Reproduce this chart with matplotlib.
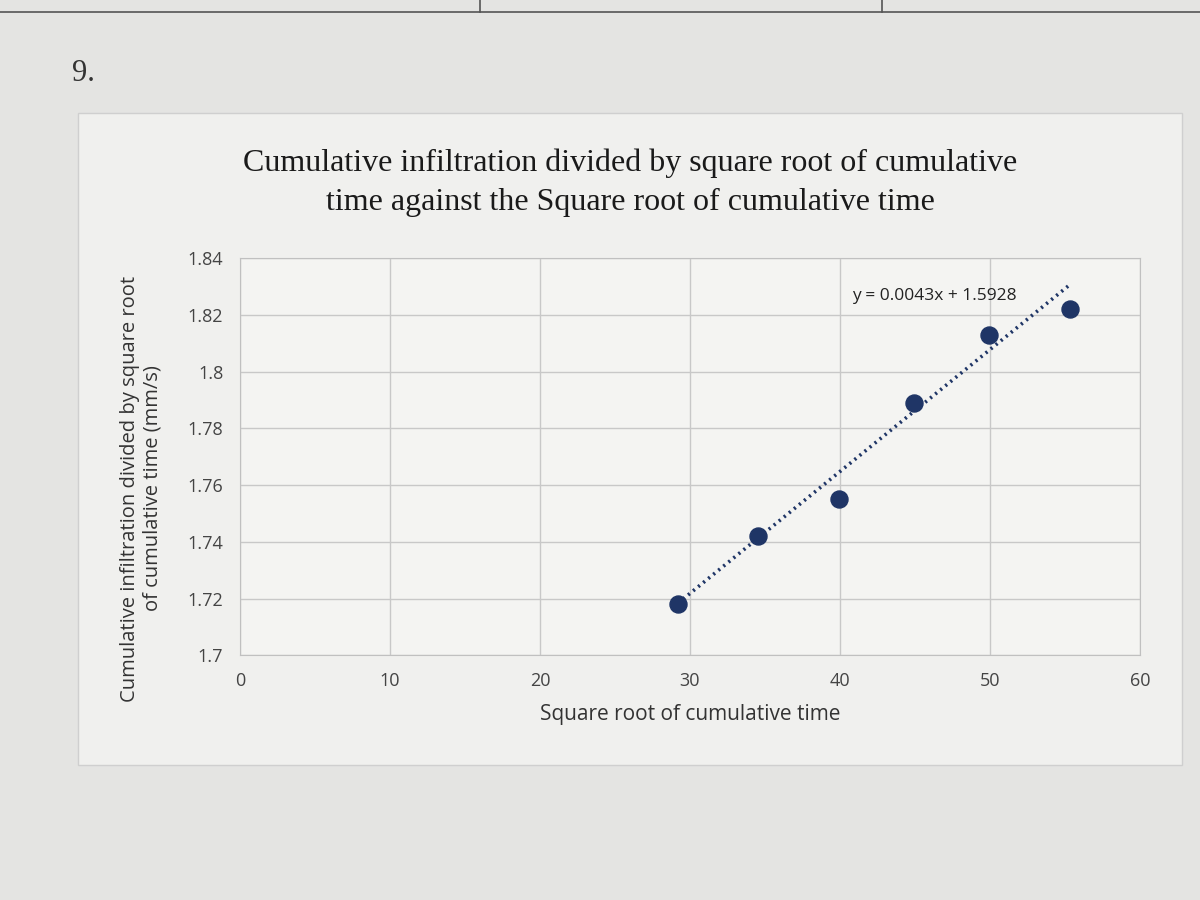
import numpy as np
import matplotlib
matplotlib.use("Agg")
import matplotlib.pyplot as plt
from matplotlib.patches import Rectangle
from matplotlib.lines import Line2D

# values
sqrt_time = [29.2, 34.5, 39.9, 44.9, 49.9, 55.3]
infil_ratio = [1.718, 1.742, 1.755, 1.789, 1.813, 1.822]
slope, intercept = 0.0043, 1.5928

x_ticks = [0, 10, 20, 30, 40, 50, 60]
y_ticks = [1.70, 1.72, 1.74, 1.76, 1.78, 1.80, 1.82, 1.84]
y_tick_labels = ["1.7", "1.72", "1.74", "1.76", "1.78", "1.8", "1.82", "1.84"]

title = ("Cumulative infiltration divided by square root of cumulative\n"
         "time against the Square root of cumulative time")
x_label = "Square root of cumulative time"
y_label = "Cumulative infiltration divided by square root\nof cumulative time (mm/s)"

navy = "#1f3566"
sans = ["Open Sans", "DejaVu Sans"]
serif = ["Liberation Serif", "DejaVu Serif"]

fig = plt.figure(figsize=(12, 9), dpi=100)
fig.patch.set_facecolor("#e4e4e2")

# page decorations: table edge at top, question number, chart frame
fig.add_artist(Line2D([0, 1], [0.987, 0.987], color="#555555", lw=1.2))
fig.add_artist(Line2D([0.40, 0.40], [0.987, 1.0], color="#555555", lw=1.2))
fig.add_artist(Line2D([0.735, 0.735], [0.987, 1.0], color="#555555", lw=1.2))
fig.text(0.06, 0.91, "9.", family=serif, fontsize=22, color="#333333")
fig.add_artist(Rectangle((0.065, 0.15), 0.92, 0.725, transform=fig.transFigure,
                         facecolor="#f0f0ee", edgecolor="#cfcfcf", lw=1.0, zorder=0))

ax = fig.add_axes([0.20, 0.272, 0.75, 0.441])
ax.set_facecolor("#f4f4f2")

# trendline across the data range, dotted like Excel's
xs = np.array([sqrt_time[0], sqrt_time[-1]])
ax.plot(xs, slope * xs + intercept, color=navy, lw=2.6, linestyle=(0, (0.6, 1.2)),
        zorder=2)
ax.scatter(sqrt_time, infil_ratio, s=150, color=navy, zorder=3)
ax.text(40.8, 1.8267, f"y = {slope}x + {intercept}", family=sans, fontsize=12.5,
        color="#222222", va="center")

ax.set_xlim(0, 60)
ax.set_ylim(1.70, 1.84)
ax.set_xticks(x_ticks)
ax.set_yticks(y_ticks)
ax.set_yticklabels(y_tick_labels)
ax.tick_params(length=0, labelsize=13, labelcolor="#444444", pad=12)
for lbl in ax.get_xticklabels() + ax.get_yticklabels():
    lbl.set_family(sans)
ax.grid(True, color="#c8c8c8", lw=1.0)
ax.set_axisbelow(True)
for s in ax.spines.values():
    s.set_color("#c0c0c0")

fig.text(0.525, 0.797, title, family=serif, fontsize=23, color="#1a1a1a",
         ha="center", va="center", linespacing=1.45)
ax.set_xlabel(x_label, family=sans, fontsize=15, color="#333333", labelpad=10)
ax.set_ylabel(y_label, family=sans, fontsize=14.5, color="#333333")
ax.yaxis.set_label_coords(-0.086, 0.42)

fig.savefig("out.png", dpi=100, facecolor=fig.get_facecolor())
